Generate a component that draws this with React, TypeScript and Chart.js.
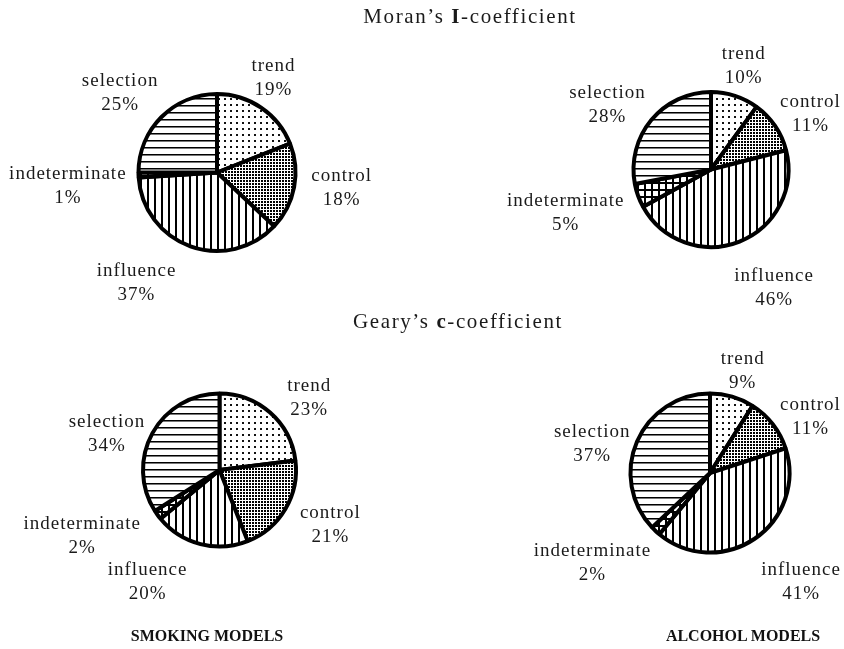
import React, { useEffect, useRef } from 'react';
import { Chart, registerables } from 'chart.js';

Chart.register(...registerables);

const W = 844;
const H = 649;
const SERIF = '"Liberation Serif", "Times New Roman", serif';

// ---- data ----
const categories = ['trend', 'control', 'influence', 'indeterminate', 'selection'];
const smokingMoran = [19, 18, 37, 1, 25];
const alcoholMoran = [10, 11, 46, 5, 28];
const smokingGeary = [23, 21, 20, 2, 34];
const alcoholGeary = [9, 11, 41, 2, 37];

// ---- layout / style ----
const pieLayouts = [
  { values: smokingMoran, cx: 217, cy: 172.5, r: 78.5,
    nudges: [[-9, 4], [2, -7], [-35, -1], [4, 10], [-3, 4]] },
  { values: alcoholMoran, cx: 711, cy: 169.5, r: 77.5,
    nudges: [[-3, 8], [-3, 11], [14, 9], [-2, 4], [-2, 10]] },
  { values: smokingGeary, cx: 219.5, cy: 470, r: 76.5,
    nudges: [[14, 15], [5, -4], [-39, -1], [-15, -2], [2, 20]] },
  { values: alcoholGeary, cx: 710, cy: 473, r: 79.5,
    nudges: [[0, 13], [1, 17], [15, 10], [-12, 3], [5, 18]] },
];

function makePattern(kind: string): CanvasPattern | string {
  const c = document.createElement('canvas');
  const g = c.getContext('2d')!;
  if (kind === 'sparseDots') {
    c.width = 6; c.height = 6;
    g.fillStyle = '#fff'; g.fillRect(0, 0, 6, 6);
    g.fillStyle = '#111'; g.fillRect(2, 2, 2, 2);
  } else if (kind === 'denseDots') {
    c.width = 3; c.height = 3;
    g.fillStyle = '#fff'; g.fillRect(0, 0, 3, 3);
    g.fillStyle = '#000'; g.fillRect(0, 0, 2, 2);
  } else if (kind === 'vertical') {
    c.width = 7; c.height = 2;
    g.fillStyle = '#fff'; g.fillRect(0, 0, 7, 2);
    g.fillStyle = '#000'; g.fillRect(0, 0, 2, 2);
  } else if (kind === 'horizontal') {
    c.width = 2; c.height = 7;
    g.fillStyle = '#fff'; g.fillRect(0, 0, 2, 7);
    g.fillStyle = '#000'; g.fillRect(0, 0, 2, 1);
    g.fillStyle = '#777'; g.fillRect(0, 1, 2, 1);
  } else {
    c.width = 7; c.height = 7;
    g.fillStyle = '#fff'; g.fillRect(0, 0, 7, 7);
    g.fillStyle = '#000'; g.fillRect(0, 0, 2, 7); g.fillRect(0, 0, 7, 2);
  }
  return g.createPattern(c, 'repeat') || '#fff';
}

const patternKinds = ['sparseDots', 'denseDots', 'vertical', 'grid', 'horizontal'];

const labelPlugin = {
  id: 'pieLabels',
  afterDatasetsDraw(chart: any, _args: any, opts: any) {
    const ctx = chart.ctx;
    const meta = chart.getDatasetMeta(0);
    const ds = chart.data.datasets[0];
    ctx.save();
    ctx.font = `19px ${SERIF}`;
    try { ctx.letterSpacing = '1px'; } catch (e) { /* ignore */ }
    ctx.fillStyle = '#1a1a1a';
    ctx.textAlign = 'center';
    ctx.textBaseline = 'middle';
    meta.data.forEach((arc: any, i: number) => {
      const p = arc.getProps(['x', 'y', 'startAngle', 'endAngle', 'outerRadius'], true);
      const mid = (p.startAngle + p.endAngle) / 2;
      const ux = Math.cos(mid);
      const uy = Math.sin(mid);
      const l1 = String(chart.data.labels[i]);
      const l2 = ds.data[i] + '%';
      const w = Math.max(ctx.measureText(l1).width, ctx.measureText(l2).width);
      const h = 48;
      const n = (opts && opts.nudges && opts.nudges[i]) || [0, 0];
      const d = p.outerRadius + 16;
      const bx = p.x + ux * d + (ux * w) / 2 + n[0];
      const by = p.y + uy * d + (uy * h) / 2 + n[1];
      ctx.fillText(l1, bx, by - 12);
      ctx.fillText(l2, bx, by + 12);
    });
    ctx.restore();
  },
};

function PieCanvas({ layout }: { layout: any }) {
  const ref = useRef<HTMLCanvasElement>(null);
  useEffect(() => {
    if (!ref.current) return;
    const S = 100;
    const chart = new Chart(ref.current, {
      type: 'pie',
      data: {
        labels: categories,
        datasets: [
          {
            data: layout.values,
            backgroundColor: patternKinds.map(makePattern) as any,
            borderColor: '#000',
            borderWidth: 4,
            hoverOffset: 0,
          },
        ],
      },
      options: {
        responsive: false,
        animation: false,
        events: [],
        radius: layout.r,
        layout: {
          padding: {
            left: layout.cx - S,
            right: W - layout.cx - S,
            top: layout.cy - S,
            bottom: H - layout.cy - S,
          },
        },
        plugins: {
          legend: { display: false },
          tooltip: { enabled: false },
          pieLabels: { nudges: layout.nudges },
        } as any,
      } as any,
      plugins: [labelPlugin],
    });
    return () => chart.destroy();
  }, [layout]);
  return (
    <canvas
      ref={ref}
      width={W}
      height={H}
      style={{ position: 'absolute', left: 0, top: 0, width: W, height: H }}
    />
  );
}

const titleStyle: React.CSSProperties = {
  position: 'absolute',
  transform: 'translateX(-50%)',
  whiteSpace: 'nowrap',
  fontFamily: SERIF,
  fontSize: 21,
  letterSpacing: '1.6px',
  lineHeight: '24px',
  color: '#1a1a1a',
};

const footStyle: React.CSSProperties = {
  position: 'absolute',
  transform: 'translateX(-50%)',
  whiteSpace: 'nowrap',
  fontFamily: SERIF,
  fontSize: 16,
  fontWeight: 'bold',
  lineHeight: '20px',
  color: '#111',
};

export default function App() {
  return (
    <div style={{ position: 'absolute', left: 0, top: 0, width: W, height: H, background: '#fff', overflow: 'hidden' }}>
      {pieLayouts.map((l, i) => (
        <PieCanvas key={i} layout={l} />
      ))}
      <div style={{ ...titleStyle, left: 470, top: 4 }}>
        Moran’s <b>I</b>-coefficient
      </div>
      <div style={{ ...titleStyle, left: 458, top: 309 }}>
        Geary’s <b>c</b>-coefficient
      </div>
      <div style={{ ...footStyle, left: 207, top: 626 }}>SMOKING MODELS</div>
      <div style={{ ...footStyle, left: 743, top: 626 }}>ALCOHOL MODELS</div>
    </div>
  );
}
